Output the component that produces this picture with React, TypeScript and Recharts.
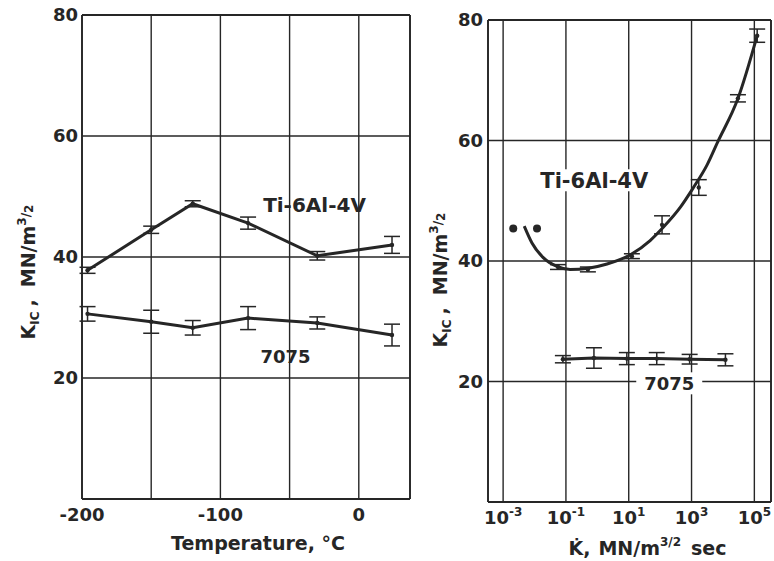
import React from 'react';
import {
  ComposedChart,
  Line,
  Scatter,
  XAxis,
  YAxis,
  CartesianGrid,
  ErrorBar,
  ReferenceLine,
  ReferenceDot,
} from 'recharts';

// ---------- Left panel: K_IC vs temperature ----------
const temperatureC = [-196, -150, -120, -80, -30, 24];
const tiKicVsTemp = [37.8, 44.5, 48.8, 45.6, 40.2, 42.0];
const tiKicVsTempErr = [0.5, 0.6, 0.5, 1.0, 0.7, 1.4];
const al7075KicVsTemp = [30.6, 29.3, 28.3, 29.9, 29.1, 27.1];
const al7075KicVsTempErr = [1.2, 1.9, 1.2, 1.9, 1.0, 1.8];

const tempGridTicks = [-200, -150, -100, -50, 0];
const tempLabelTicks = [-200, -100, 0];
const tempDomain = [-200, 37];

// ---------- Shared K axis ----------
const kicTicks = [0, 20, 40, 60, 80];
const kicLabelTicks = [20, 40, 60, 80];

// ---------- Right panel: K_IC vs loading rate ----------
const rateTicks = [1e-3, 1e-1, 1e1, 1e3, 1e5];
const rateTickExponents = ['-3', '-1', '1', '3', '5'];
const rateDomain = [0.00033, 339000];

const tiCurveRate = [0.0047, 0.0083, 0.0186, 0.052, 0.135, 0.51, 2.04, 11, 48, 126, 436, 1120, 3160, 6600, 30200, 123000];
const tiCurveKic = [45.8, 43.0, 40.6, 39.1, 38.6, 38.8, 39.5, 41.0, 43.4, 45.6, 48.9, 52.1, 56.0, 59.6, 67.0, 77.4];

const tiPointRate = [0.056, 0.5, 12.6, 115, 1700, 30000, 123000];
const tiPointKic = [39.0, 38.6, 40.8, 46.0, 52.2, 67.0, 77.4];
const tiPointErr = [0.4, 0.4, 0.4, 1.5, 1.3, 0.6, 1.1];

const tiDotRate = [0.0021, 0.012];
const tiDotKic = [45.4, 45.4];

const al7075Rate = [0.08, 0.78, 8.7, 78, 870, 12000];
const al7075Kic = [23.7, 23.9, 23.8, 23.8, 23.7, 23.6];
const al7075Err = [0.6, 1.7, 1.0, 1.0, 0.8, 1.0];

// ---------- Series tables ----------
const leftTi = temperatureC.map((x, i) => ({ x, y: tiKicVsTemp[i], err: tiKicVsTempErr[i] }));
const left7075 = temperatureC.map((x, i) => ({ x, y: al7075KicVsTemp[i], err: al7075KicVsTempErr[i] }));
const rightTiCurve = tiCurveRate.map((x, i) => ({ x, y: tiCurveKic[i] }));
const rightTiPoints = tiPointRate.map((x, i) => ({ x, y: tiPointKic[i], err: tiPointErr[i] }));
const rightTiDots = tiDotRate.map((x, i) => ({ x, y: tiDotKic[i] }));
const right7075 = al7075Rate.map((x, i) => ({ x, y: al7075Kic[i], err: al7075Err[i] }));

const INK = '#262626';
const FONT = '"DejaVu Sans", sans-serif';
const tickStyle = { fill: INK, fontSize: 18, fontWeight: 700, fontFamily: FONT };

const KicLabel = (props: any) => {
  const vb = props.viewBox || { x: 0, y: 0, width: 0, height: 0 };
  const cx = vb.x + props.offX;
  const cy = vb.y + vb.height / 2 + props.offY;
  return (
    <text
      x={cx}
      y={cy}
      transform={`rotate(-90 ${cx} ${cy})`}
      textAnchor="middle"
      fill={INK}
      fontFamily={FONT}
      fontWeight={700}
      fontSize={19}
    >
      <tspan dy={7}>K</tspan>
      <tspan fontSize={12} dy={4}>IC</tspan>
      <tspan dy={-4} dx={5}>,</tspan>
      <tspan dx={12}>MN/m</tspan>
      <tspan fontSize={12} dy={-9}>3</tspan>
      <tspan fontSize={12} dy={4}>/</tspan>
      <tspan fontSize={12} dy={3}>2</tspan>
    </text>
  );
};

const TempLabel = (props: any) => {
  const vb = props.viewBox || { x: 0, y: 0, width: 0, height: 0 };
  return (
    <text
      x={vb.x + vb.width / 2 + 12}
      y={vb.y + 51}
      textAnchor="middle"
      fill={INK}
      fontFamily={FONT}
      fontWeight={700}
      fontSize={19}
    >
      Temperature, °C
    </text>
  );
};

const RateLabel = (props: any) => {
  const vb = props.viewBox || { x: 0, y: 0, width: 0, height: 0 };
  return (
    <text
      x={vb.x + vb.width / 2 + 18}
      y={vb.y + 53}
      textAnchor="middle"
      fill={INK}
      fontFamily={FONT}
      fontWeight={700}
      fontSize={19}
    >
      <tspan>{'K\u0307,'}</tspan>
      <tspan dx={8}>MN/m</tspan>
      <tspan fontSize={12} dy={-9}>3/2</tspan>
      <tspan dy={9} dx={10}>sec</tspan>
    </text>
  );
};

const RateTick = (props: any) => {
  const { x, y, payload } = props;
  const idx = rateTicks.indexOf(payload.value);
  const exp = idx >= 0 ? rateTickExponents[idx] : '';
  return (
    <text x={x} y={y} textAnchor="middle" fill={INK} fontFamily={FONT} fontWeight={700} fontSize={18}>
      <tspan dy={13}>10</tspan>
      <tspan fontSize={12} dy={-8}>{exp}</tspan>
    </text>
  );
};

const annotation = (text: string, size: number, knockout?: number) => (p: any) => (
  <g>
    {knockout ? (
      <rect x={p.cx - knockout / 2} y={p.cy - 11} width={knockout} height={22} fill="#ffffff" />
    ) : null}
    <text
      x={p.cx}
      y={p.cy + size * 0.36}
      textAnchor="middle"
      fill={INK}
      fontFamily={FONT}
      fontWeight={700}
      fontSize={size}
    >
      {text}
    </text>
  </g>
);

const leftTiLabelAt = { x: -32, y: 48.6 };
const left7075LabelAt = { x: -53, y: 23.6 };
const rightTiLabelAt = { x: 0.8, y: 53.4 };
const right7075LabelAt = { x: 195, y: 19.7 };

const MarkDot = (p: any) => <circle cx={p.cx} cy={p.cy} r={2.2} fill={INK} />;
const BigDot = (p: any) => <circle cx={p.cx} cy={p.cy} r={4} fill={INK} />;

export default function App() {
  return (
    <div style={{ position: 'absolute', left: 0, top: 0, width: 774, height: 561, background: '#ffffff' }}>
      <div style={{ position: 'absolute', left: 0, top: 0 }}>
        <ComposedChart width={420} height={561} margin={{ top: 15, right: 10, left: 22, bottom: 12 }}>
          <CartesianGrid stroke={INK} strokeWidth={1.4} />
          <XAxis
            type="number"
            dataKey="x"
            domain={tempDomain}
            ticks={tempGridTicks}
            interval={0}
            allowDataOverflow
            tickFormatter={(v: number) => (tempLabelTicks.includes(v) ? String(v) : '')}
            tickLine={false}
            tickSize={6}
            tickMargin={3}
            axisLine={{ stroke: INK, strokeWidth: 1.8 }}
            tick={tickStyle}
            height={50}
            label={<TempLabel />}
          />
          <YAxis
            type="number"
            dataKey="y"
            domain={[0, 80]}
            ticks={kicTicks}
            interval={0}
            allowDataOverflow
            tickFormatter={(v: number) => (kicLabelTicks.includes(v) ? String(v) : '')}
            tickLine={false}
            tickSize={2}
            tickMargin={2}
            axisLine={{ stroke: INK, strokeWidth: 1.8 }}
            tick={tickStyle}
            width={60}
            label={<KicLabel offX={6} offY={15} />}
          />
          <ReferenceLine x={tempDomain[1]} stroke={INK} strokeWidth={1.8} />
          <ReferenceLine y={80} stroke={INK} strokeWidth={1.8} />
          <Line
            data={leftTi}
            dataKey="y"
            stroke={INK}
            strokeWidth={3}
            dot={<MarkDot />}
            isAnimationActive={false}
          >
            <ErrorBar dataKey="err" direction="y" width={8} stroke={INK} strokeWidth={1.5} />
          </Line>
          <Line
            data={left7075}
            dataKey="y"
            stroke={INK}
            strokeWidth={3}
            dot={<MarkDot />}
            isAnimationActive={false}
          >
            <ErrorBar dataKey="err" direction="y" width={8} stroke={INK} strokeWidth={1.5} />
          </Line>
          <ReferenceDot x={leftTiLabelAt.x} y={leftTiLabelAt.y} r={1} shape={annotation('Ti-6Al-4V', 20)} />
          <ReferenceDot x={left7075LabelAt.x} y={left7075LabelAt.y} r={1} shape={annotation('7075', 18)} />
        </ComposedChart>
      </div>
      <div style={{ position: 'absolute', left: 420, top: 0 }}>
        <ComposedChart width={354} height={561} margin={{ top: 20, right: 3, left: 20, bottom: 9 }}>
          <CartesianGrid stroke={INK} strokeWidth={1.4} />
          <XAxis
            type="number"
            dataKey="x"
            scale="log"
            domain={rateDomain}
            ticks={rateTicks}
            interval={0}
            allowDataOverflow
            tickLine={false}
            tickSize={6}
            tickMargin={3}
            axisLine={{ stroke: INK, strokeWidth: 1.8 }}
            tick={<RateTick />}
            height={50}
            label={<RateLabel />}
          />
          <YAxis
            type="number"
            dataKey="y"
            domain={[0, 80]}
            ticks={kicTicks}
            interval={0}
            allowDataOverflow
            tickFormatter={(v: number) => (kicLabelTicks.includes(v) ? String(v) : '')}
            tickLine={false}
            tickSize={2}
            tickMargin={3}
            axisLine={{ stroke: INK, strokeWidth: 1.8 }}
            tick={tickStyle}
            width={48}
            label={<KicLabel offX={0} offY={19} />}
          />
          <ReferenceLine x={rateDomain[1]} stroke={INK} strokeWidth={1.8} />
          <ReferenceLine y={80} stroke={INK} strokeWidth={1.8} />
          <ReferenceDot
            x={rightTiLabelAt.x}
            y={rightTiLabelAt.y}
            r={1}
            shape={annotation('Ti-6Al-4V', 21, 116)}
          />
          <ReferenceDot
            x={right7075LabelAt.x}
            y={right7075LabelAt.y}
            r={1}
            shape={annotation('7075', 18, 66)}
          />
          <Line
            data={rightTiCurve}
            dataKey="y"
            type="monotone"
            stroke={INK}
            strokeWidth={3}
            dot={false}
            isAnimationActive={false}
          />
          <Scatter data={rightTiPoints} dataKey="y" shape={<MarkDot />} isAnimationActive={false}>
            <ErrorBar dataKey="err" direction="y" width={8} stroke={INK} strokeWidth={1.5} />
          </Scatter>
          <Scatter data={rightTiDots} dataKey="y" shape={<BigDot />} isAnimationActive={false} />
          <Line
            data={right7075}
            dataKey="y"
            stroke={INK}
            strokeWidth={3}
            dot={<MarkDot />}
            isAnimationActive={false}
          >
            <ErrorBar dataKey="err" direction="y" width={8} stroke={INK} strokeWidth={1.5} />
          </Line>
        </ComposedChart>
      </div>
    </div>
  );
}
